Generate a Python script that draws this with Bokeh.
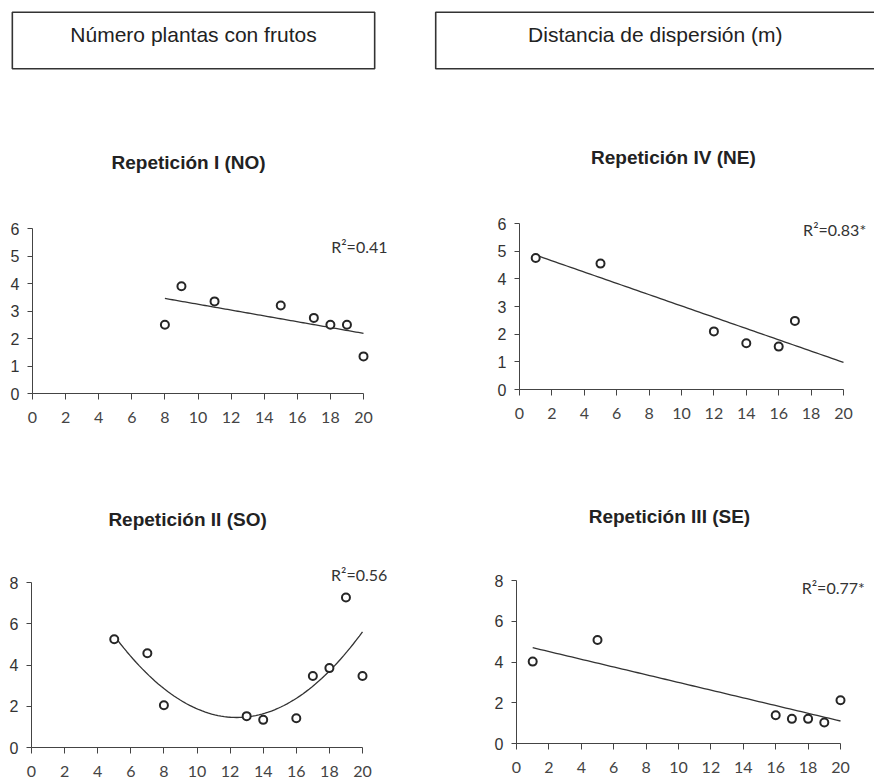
import numpy as np
from bokeh.plotting import figure
from bokeh.layouts import column, row
from bokeh.models import Spacer, Range1d, FixedTicker, Label, BoxAnnotation
from bokeh.embed import file_html
from bokeh.resources import INLINE

# ---------------- data ----------------
header_left = "Número plantas con frutos"
header_right = "Distancia de dispersión (m)"

x_ticks = [0, 2, 4, 6, 8, 10, 12, 14, 16, 18, 20]

rep1_title = "Repetición I (NO)"
rep1_x = [8, 9, 11, 15, 17, 18, 19, 20]
rep1_y = [2.5, 3.9, 3.35, 3.2, 2.75, 2.5, 2.5, 1.35]
rep1_r2 = "R²=0.41"
rep1_yticks = [0, 1, 2, 3, 4, 5, 6]

rep4_title = "Repetición IV (NE)"
rep4_x = [1, 5, 12, 14, 16, 17]
rep4_y = [4.75, 4.55, 2.1, 1.67, 1.55, 2.48]
rep4_r2 = "R²=0.83*"
rep4_yticks = [0, 1, 2, 3, 4, 5, 6]

rep2_title = "Repetición II (SO)"
rep2_x = [5, 7, 8, 13, 14, 16, 17, 18, 19, 20]
rep2_y = [5.25, 4.57, 2.05, 1.52, 1.34, 1.42, 3.47, 3.85, 7.27, 3.47]
rep2_r2 = "R²=0.56"
rep2_yticks = [0, 2, 4, 6, 8]

rep3_title = "Repetición III (SE)"
rep3_x = [1, 5, 16, 17, 18, 19, 20]
rep3_y = [4.02, 5.08, 1.39, 1.21, 1.21, 1.03, 2.12]
rep3_r2 = "R²=0.77*"
rep3_yticks = [0, 2, 4, 6, 8]

X_END = 20
DARK = "#262626"


def header_box(text, width, text_x, open_right=False):
    p = figure(width=width, height=60, x_range=Range1d(0, 1), y_range=Range1d(-0.03, 1.03),
               x_axis_location=None, y_axis_location=None, output_backend="svg",
               toolbar_location=None, min_border=0)
    p.grid.visible = False
    p.outline_line_color = None
    right = 1.5 if open_right else 0.995
    p.add_layout(BoxAnnotation(left=0.005, right=right, bottom=0.0, top=1.0,
                               fill_alpha=0, line_color="#333333", line_alpha=1.0,
                               line_width=1.6))
    p.add_layout(Label(x=text_x, y=0.6, text=text, text_align="center", text_baseline="middle",
                       text_font="Liberation Sans", text_font_size="21px", text_color="#222222"))
    return p


def panel(title, xs, ys, yticks, ymax, r2, r2x, r2y, deg, W, H,
          bl, top_px, bottom_px, fig_top, px20, title_x, title_y):
    # frame spans from the figure top down to the x-axis line
    fw = W - bl - 2
    fh = bottom_px - fig_top
    bb = H - fh
    x_end = X_END * fw / px20
    y_end = ymax * fh / (bottom_px - top_px)
    p = figure(frame_width=fw, frame_height=fh, min_border_left=bl, min_border_right=2,
               min_border_top=0, min_border_bottom=bb,
               x_range=Range1d(0, x_end), y_range=Range1d(0, y_end),
               output_backend="svg", toolbar_location=None)
    p.grid.visible = False
    p.outline_line_color = None

    p.xaxis.bounds = (0, X_END)
    p.yaxis.bounds = (0, ymax)
    p.xaxis.ticker = FixedTicker(ticks=x_ticks)
    p.yaxis.ticker = FixedTicker(ticks=yticks)
    for ax in (p.xaxis, p.yaxis):
        ax.axis_line_color = "#444444"
        ax.axis_line_width = 1
        ax.major_tick_line_color = "#444444"
        ax.minor_tick_line_color = None
        ax.major_tick_in = 0
    p.xaxis.major_tick_out = 6
    p.yaxis.major_tick_out = 5
    p.xaxis.major_label_text_font = "Lato"
    p.xaxis.major_label_text_font_size = "16px"
    p.xaxis.major_label_text_color = "#444444"
    p.xaxis.major_label_standoff = 12
    p.yaxis.major_label_text_font = "Liberation Sans"
    p.yaxis.major_label_text_font_size = "16px"
    p.yaxis.major_label_text_color = "#333333"
    p.yaxis.major_label_standoff = 8

    coef = np.polyfit(xs, ys, deg)
    tx = np.linspace(min(xs), X_END, 80)
    ty = np.polyval(coef, tx)
    p.line(tx, ty, line_color="#333333", line_width=1.3)
    p.scatter(xs, ys, marker="circle", size=8, fill_color="white",
              line_color=DARK, line_width=2)
    p.add_layout(Label(x=r2x, y=r2y, text=r2, text_align="right", text_baseline="middle",
                       text_font="Lato", text_font_size="16px", text_color="#333333"))
    p.add_layout(Label(x=title_x, y=title_y, text=title, text_align="center",
                       text_baseline="middle", text_font="Liberation Sans",
                       text_font_style="bold", text_font_size="19px", text_color="#222222"))
    return p


hdr = row(Spacer(width=10, height=60),
          header_box(header_left, 366, 0.5),
          Spacer(width=57, height=60),
          header_box(header_right, 441, 0.503, open_right=True))

p1 = panel(rep1_title, rep1_x, rep1_y, rep1_yticks, 6, rep1_r2, 21.45, 5.35, 1,
           437, 370, 32, 228, 393, 70, 331, 9.43, 8.4)
p4 = panel(rep4_title, rep4_x, rep4_y, rep4_yticks, 6, rep4_r2, 21.4, 5.78, 1,
           437, 370, 82, 223, 389, 70, 324, 9.5, 8.39)
p2 = panel(rep2_title, rep2_x, rep2_y, rep2_yticks, 8, rep2_r2, 21.5, 8.4, 2,
           437, 340, 31, 582, 747, 440, 331, 9.43, 11.05)
p3 = panel(rep3_title, rep3_x, rep3_y, rep3_yticks, 8, rep3_r2, 21.5, 7.65, 1,
           437, 340, 79, 580, 743, 440, 324, 9.44, 11.14)

layout = column(Spacer(width=874, height=10), hdr, row(p1, p4), row(p2, p3))

open("out.html", "w").write(file_html(layout, INLINE))
